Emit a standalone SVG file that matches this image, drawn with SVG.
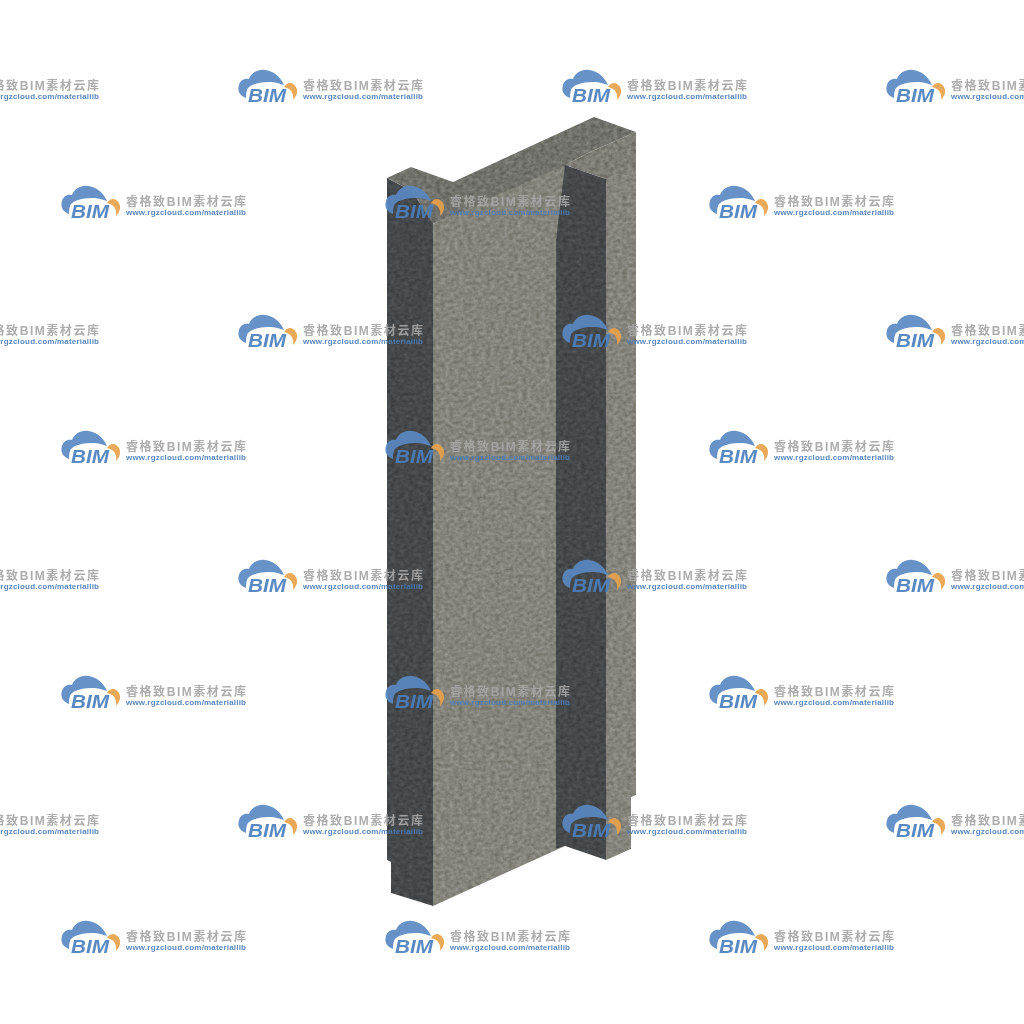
<svg xmlns="http://www.w3.org/2000/svg" xmlns:xlink="http://www.w3.org/1999/xlink" width="1024" height="1024" viewBox="0 0 1024 1024">
<style>
.t{font-family:"Liberation Sans","Noto Sans CJK SC",sans-serif;font-size:12px;font-weight:700;fill:#a6a6a6}
.u{font-family:"Liberation Sans",sans-serif;font-size:8px;font-weight:700;fill:#4a7cb8}
.b{font-family:"Liberation Sans",sans-serif;font-size:17.5px;font-weight:700;font-style:italic;fill:#4a7fbe}
</style>
<defs>
<filter id="grain" x="0" y="0" width="100%" height="100%" color-interpolation-filters="sRGB">
<feTurbulence type="fractalNoise" baseFrequency="0.22 0.28" numOctaves="3" seed="4" result="n"/>
<feColorMatrix in="n" type="matrix" values="0.26 0 0 0 0.345  0.26 0 0 0 0.345  0.26 0 0 0 0.345  0 0 0 0 1" result="g1"/>
<feGaussianBlur in="g1" stdDeviation="0.7" result="g2"/>
<feBlend in="g2" in2="SourceGraphic" mode="overlay" result="b"/>
<feComposite in="b" in2="SourceAlpha" operator="in" result="c"/>
<feGaussianBlur in="c" stdDeviation="0.6"/>
</filter>
<filter id="soft" x="-5%" y="-5%" width="110%" height="110%"><feGaussianBlur stdDeviation="0.35"/></filter>
<g id="logo">
<path d="M8 28C2 26-1 21 1 15C2 11 6 8 11 9C13 3 20-1 27 0C35 1 42 6 46 15C39 12.500 35 12 30 12C21 12 10 15 9 20C8 23 8 26 8 28Z" fill="#5a89c2"/>
<path d="M46 17C48 13 53 12 55 14C60 17 61 24 55 30C56 25 54 21 51 19C49 18 47 17 46 17Z" fill="#e8a24c"/>
<text class="b" x="10" y="32" textLength="38" lengthAdjust="spacingAndGlyphs">BIM</text>
<text class="t" x="65" y="20" textLength="120" lengthAdjust="spacing">睿格致BIM素材云库</text>
<text class="u" x="65" y="28.500" textLength="120" lengthAdjust="spacing">www.rgzcloud.com/materiallib</text>
</g>
</defs>
<rect width="1024" height="1024" fill="#fff"/>
<g id="column" filter="url(#grain)">
<path id="right" d="M606 179L636 160L636 795L631 797L631 849L606 860Z" fill="#8a8a82"/>
<path id="front" d="M433 224L570 160L556 240L556 849L565 846L433 906Z" fill="#8a8a82"/>
<path id="left-dark" d="M387 178L412 191L433 223L433 906L391 893L391 862L387 860Z" fill="#494c4e"/>
<path id="cap" d="M387 178L411 167L453 182L594 117L636 132L590 152L565 165L433 224L412 191Z" fill="#787872"/>
<path id="cap-right" d="M636 132L636 165L606 179L565 165L590 152Z" fill="#84847c"/>
<path id="right-dark" d="M565 165L606 179L606 860L565 846L556 849L556 240Z" fill="#494c4e"/>
</g>
<g id="watermarks" opacity="0.92" filter="url(#soft)">
<use xlink:href="#logo" href="#logo" x="-86" y="70"/><use xlink:href="#logo" href="#logo" x="238" y="70"/><use xlink:href="#logo" href="#logo" x="562" y="70"/><use xlink:href="#logo" href="#logo" x="886" y="70"/>
<use xlink:href="#logo" href="#logo" x="61" y="186"/><use xlink:href="#logo" href="#logo" x="385" y="186"/><use xlink:href="#logo" href="#logo" x="709" y="186"/>
<use xlink:href="#logo" href="#logo" x="-86" y="315"/><use xlink:href="#logo" href="#logo" x="238" y="315"/><use xlink:href="#logo" href="#logo" x="562" y="315"/><use xlink:href="#logo" href="#logo" x="886" y="315"/>
<use xlink:href="#logo" href="#logo" x="61" y="431"/><use xlink:href="#logo" href="#logo" x="385" y="431"/><use xlink:href="#logo" href="#logo" x="709" y="431"/>
<use xlink:href="#logo" href="#logo" x="-86" y="560"/><use xlink:href="#logo" href="#logo" x="238" y="560"/><use xlink:href="#logo" href="#logo" x="562" y="560"/><use xlink:href="#logo" href="#logo" x="886" y="560"/>
<use xlink:href="#logo" href="#logo" x="61" y="676"/><use xlink:href="#logo" href="#logo" x="385" y="676"/><use xlink:href="#logo" href="#logo" x="709" y="676"/>
<use xlink:href="#logo" href="#logo" x="-86" y="805"/><use xlink:href="#logo" href="#logo" x="238" y="805"/><use xlink:href="#logo" href="#logo" x="562" y="805"/><use xlink:href="#logo" href="#logo" x="886" y="805"/>
<use xlink:href="#logo" href="#logo" x="61" y="921"/><use xlink:href="#logo" href="#logo" x="385" y="921"/><use xlink:href="#logo" href="#logo" x="709" y="921"/>
</g>
</svg>
